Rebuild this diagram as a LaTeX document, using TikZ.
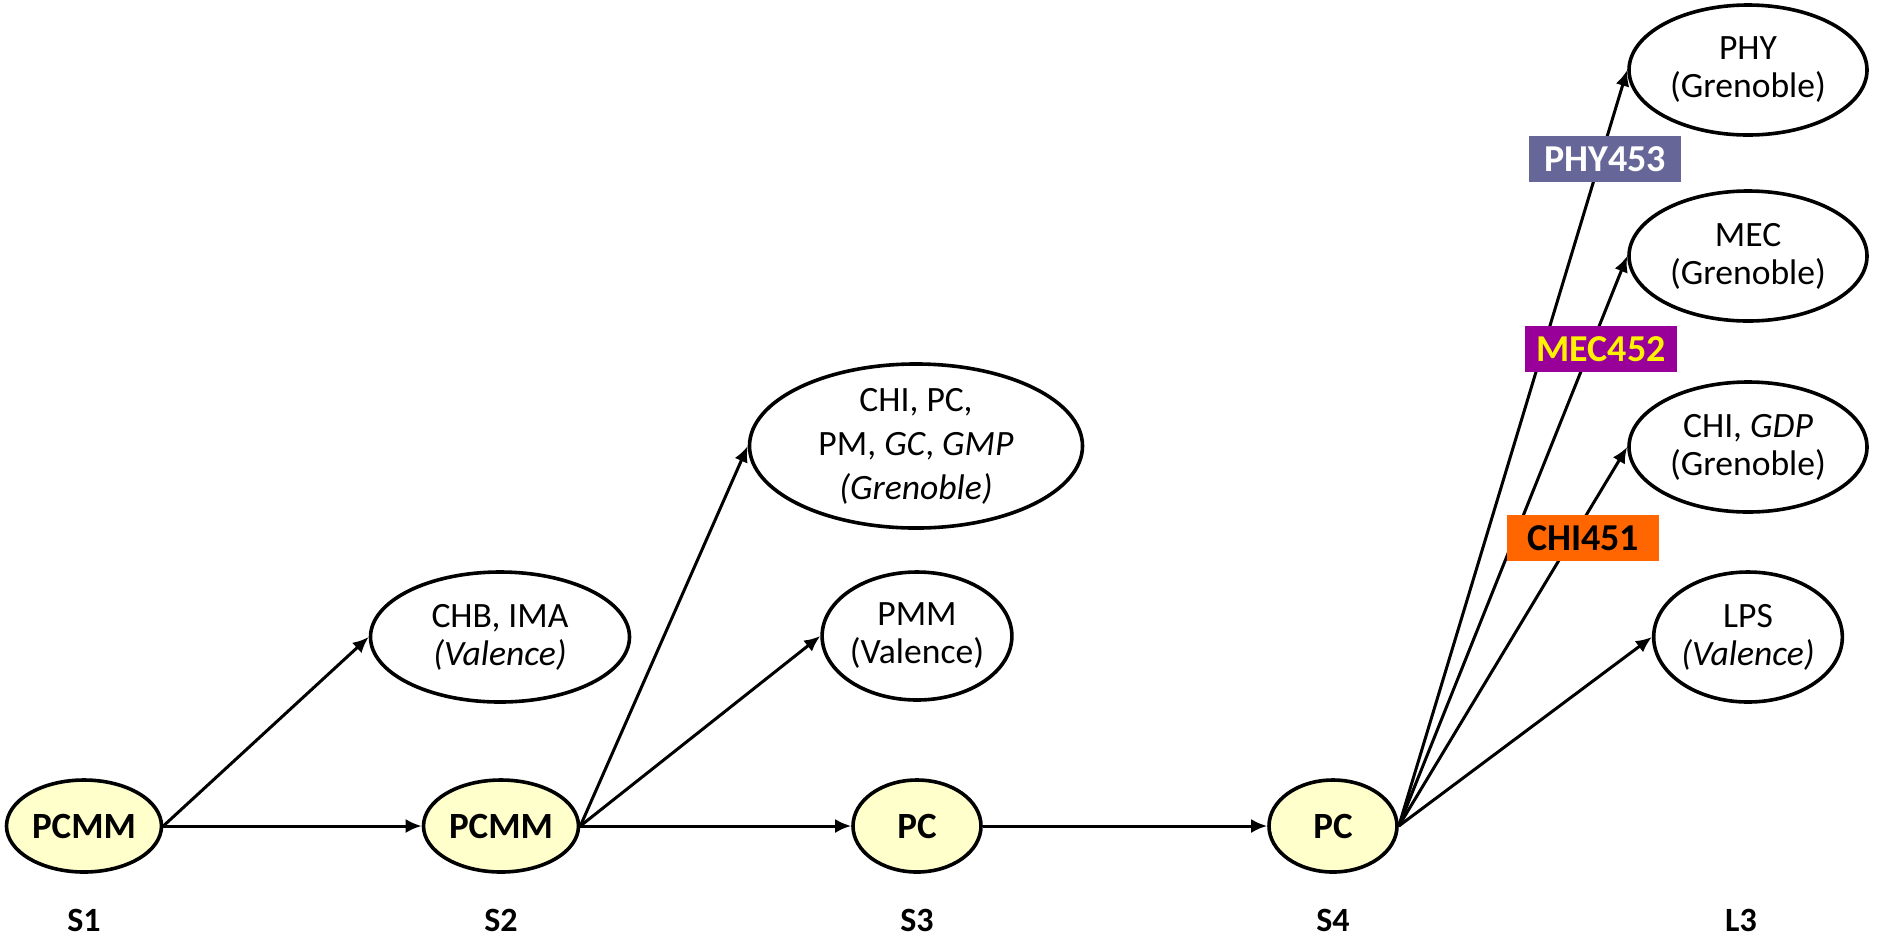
\documentclass[tikz,border=0pt]{standalone}
\usepackage{fontspec}
\setmainfont{Carlito}
\usepackage{xcolor}
\definecolor{semfill}{HTML}{FFFFCC}
\definecolor{phycolor}{HTML}{666699}
\definecolor{meccolor}{HTML}{990099}
\definecolor{chicolor}{HTML}{FF6600}
\usetikzlibrary{shapes.geometric, arrows.meta, positioning}

\begin{document}
\begin{tikzpicture}
        [
          x=0.5pt, y=-0.5pt,
          every node/.style={align=center, font=\fontsize{17.8}{19}\selectfont},
          sem/.style={ellipse, draw, line width=1.8pt, fill=semfill, inner sep=0pt,
            minimum height=46pt, font=\fontsize{18.5}{20}\selectfont\bfseries},
          filiere/.style={ellipse, draw, line width=1.8pt, inner sep=0pt, minimum height=65pt},
          ue/.style={minimum width=76pt, minimum height=23pt, inner sep=0pt,
            font=\fontsize{19}{20}\selectfont\bfseries},
          semname/.style={font=\fontsize{17}{20}\selectfont\bfseries}
        ]
        \useasboundingbox (0,0) rectangle (1883,944);

        % semestres
        \node[sem, minimum width=77.5pt] (s1) at (84,826) {PCMM};
        \node[sem, minimum width=77.5pt] (s2) at (501,826) {PCMM};
        \node[sem, minimum width=64pt] (s3) at (917,826) {PC};
        \node[sem, minimum width=64pt] (s4) at (1333,826) {PC};

        \node[semname] (n1) at (84,920) {S1};
        \node[semname] (n2) at (501,920) {S2};
        \node[semname] (n3) at (917,920) {S3};
        \node[semname] (n4) at (1333,920) {S4};
        \node[semname] (n5) at (1741,920) {L3};

        % sorties
        \node[filiere, minimum width=129.5pt] (chb) at (500,637) {CHB, IMA\\\textit{(Valence)}};
        \node[filiere, minimum width=166.5pt, minimum height=81pt, font=\fontsize{17.8}{22}\selectfont]
          (chipc) at (916,446) {CHI, PC,\\PM, \textit{GC}, \textit{GMP}\\\textit{(Grenoble)}};
        \node[filiere, minimum width=92pt, minimum height=64pt] (pmm) at (917,636) {PMM\\(Valence)};
        \node[filiere, minimum width=119pt] (phy) at (1748,70) {PHY\\(Grenoble)};
        \node[filiere, minimum width=119pt] (mec) at (1748,256) {MEC\\(Grenoble)};
        \node[filiere, minimum width=119pt] (chi) at (1748,447) {CHI, \textit{GDP}\\(Grenoble)};
        \node[filiere, minimum width=91.5pt] (lps) at (1748,637) {LPS\\\textit{(Valence)}};

        \path[-{Latex[length=8pt,width=7pt]}, line width=1.5pt]
                          (s1.east) edge (chb.west)
                          (s1.east) edge (s2.west)
                          (s2.east) edge (chipc.west)
                          (s2.east) edge (pmm.west)
                          (s2.east) edge (s3.west)
                          (s3.east) edge (s4.west)
                          (s4.east) edge (phy.west)
                          (s4.east) edge (mec.west)
                          (s4.east) edge (chi.west)
                          (s4.east) edge (lps.west);

        % UE
        \node[ue, fill=phycolor, text=white] (ue1) at (1605,159) {PHY453};
        \node[ue, fill=meccolor, text=yellow] (ue2) at (1601,349) {MEC452};
        \node[ue, fill=chicolor, text=black] (ue3) at (1583,538) {CHI451};
      \end{tikzpicture}
\end{document}
